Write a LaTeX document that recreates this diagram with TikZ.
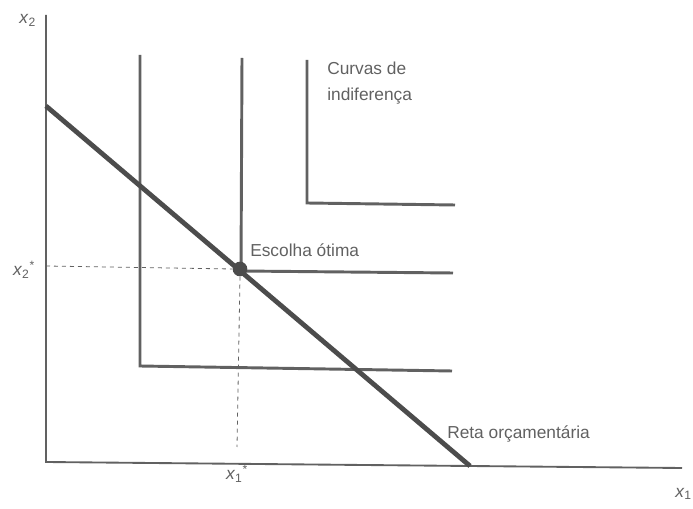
\documentclass[tikz,border=0pt]{standalone}
\usepackage{fontspec}
\setmainfont{Liberation Sans}
\usepackage{tikz}
\usetikzlibrary{calc,positioning}
\definecolor{tinta}{gray}{0.38}
\definecolor{reta}{gray}{0.30}
\newcommand{\var}[2]{\textit{x}\textsubscript{#1}\textsuperscript{#2}}
\tikzset{
		eixo/.style={draw=tinta, line width=1.4pt},
		curva/.style={draw=tinta, line width=2.2pt},
		orcamento/.style={draw=reta, line width=3.6pt},
		guia/.style={draw=tinta, dashed, line width=0.6pt},
		rotulo/.style={text=tinta, font=\fontsize{13}{19.5}\selectfont, inner sep=0pt},
		varia/.style={text=tinta, font=\fontsize{13}{14}\selectfont, inner sep=0pt},
	}

\begin{document}
\begin{tikzpicture}[x=0.75pt,y=-0.75pt]
				\useasboundingbox (0,0) rectangle (693,509);
				%% eixos
				\coordinate (origem) at (46,462);
				\coordinate (topo) at (46,15);
				\coordinate (fim) at (682,468);
				\draw[eixo] (topo) -- (origem) -- (fim);
				\node[varia] (rx2) at (28,20) {\var{2}{}};
				\node[varia, anchor=west] (rx1) at (675,494) {\var{1}{}};
				
				%% curvas de indiferenca
				\coordinate (a1) at (140,55);
				\coordinate (a2) at (140,366);
				\coordinate (a3) at (452,371);
				\draw[curva] (a1) -- (a2) -- (a3);
				
				\coordinate (b1) at (242,58);
				\coordinate (b2) at (241,271);
				\coordinate (b3) at (453,273);
				\draw[curva] (b1) -- (b2) -- (b3);
				
				\coordinate (c1) at (307,60);
				\coordinate (c2) at (307,203);
				\coordinate (c3) at (455,205);
				\draw[curva] (c1) -- (c2) -- (c3);
				
				%% reta orcamentaria
				\coordinate (r1) at (46,106);
				\coordinate (r2) at (470,466);
				\draw[orcamento] (r1) -- (r2);
				
				%% escolha otima
				\node[circle, fill=reta, inner sep=0pt, minimum size=11pt] (otimo) at (240,269) {};
				\coordinate (px2) at (46,266);
				\coordinate (px1) at (237,447);
				\draw[guia] (px2) -- (otimo.west);
				\draw[guia] (otimo.south) -- (px1);
				\node[varia] (rx2s) at (24,270) {\var{2}{*}};
				\node[varia] (rx1s) at (237,474) {\var{1}{*}};
				
				%% textos
				\node[rotulo, anchor=west] (esc) at (250,250) {Escolha ótima};
				\node[rotulo, anchor=north west, align=left] (cur) at (327,62) {Curvas de\\indiferença};
				\node[rotulo, anchor=west] (ret) at (447,434) {Reta orçamentária};
\end{tikzpicture}
\end{document}
